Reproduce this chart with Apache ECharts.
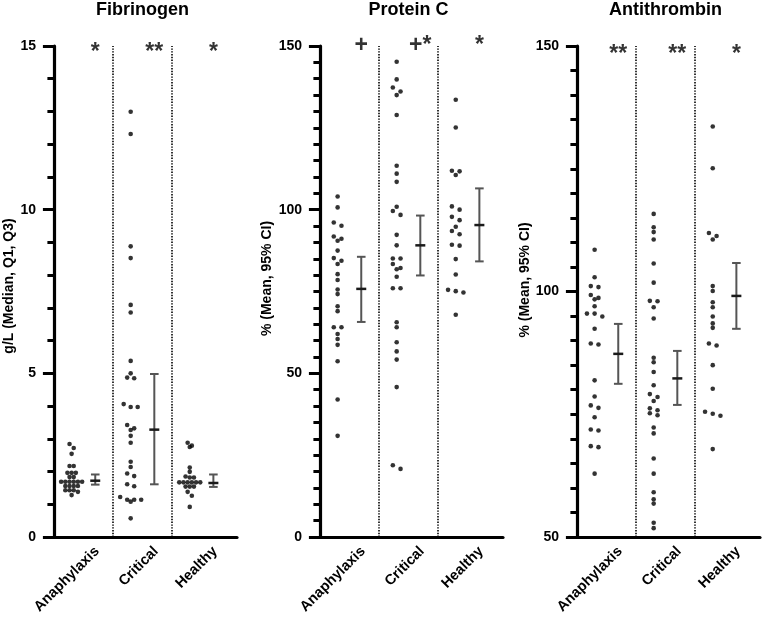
<!DOCTYPE html>
<html lang="en">
<head>
<meta charset="UTF-8">
<title>Fibrinogen, Protein C, Antithrombin</title>
<script src="https://cdn.jsdelivr.net/npm/echarts@6/dist/echarts.min.js"></script>
<style>
html, body { margin: 0; padding: 0; background: #fff; }
#main { width: 765px; height: 617px; }
</style>
</head>
<body>
<div id="main"></div>
<script>
// groups and panels
var groups = ['Anaphylaxis', 'Critical', 'Healthy'];
var panelTitles = ['Fibrinogen', 'Protein C', 'Antithrombin'];
var yNames = ['g/L (Median, Q1, Q3)', '% (Mean, 95% CI)', '% (Mean, 95% CI)'];
var yMin = [0, 0, 50];
var yMax = [15, 150, 150];
var yStep = [5, 50, 50];
var yMinorSplit = [5, 10, 10];

// Fibrinogen, g/L
var fibAnaphylaxis = [2.84, 2.72, 2.54, 2.17, 2.17, 1.96, 1.96, 1.96, 1.83, 1.83, 1.69, 1.69, 1.69, 1.69, 1.69, 1.69,
  1.56, 1.56, 1.56, 1.56, 1.43, 1.43, 1.43, 1.38, 1.28];
var fibCritical = [12.99, 12.31, 8.88, 8.52, 7.09, 6.86, 5.38, 5.00, 4.87, 4.85, 4.06, 3.97, 3.97, 3.42, 3.32, 3.27,
  3.09, 2.88, 2.30, 2.14, 1.94, 1.86, 1.61, 1.55, 1.22, 1.14, 1.14, 1.14, 1.08, 0.57];
var fibHealthy = [2.88, 2.79, 2.75, 2.12, 1.99, 1.85, 1.82, 1.82, 1.67, 1.67, 1.67, 1.67, 1.67, 1.67, 1.54, 1.54, 1.54,
  1.38, 1.26, 0.92];
// [low, median, high]
var fibBars = [[1.60, 1.72, 1.91], [1.61, 3.28, 4.98], [1.53, 1.65, 1.91]];

// Protein C, %
var pcAnaphylaxis = [104.0, 100.7, 96.1, 95.1, 91.8, 91.1, 90.5, 87.5, 85.2, 84.4, 83.4, 80.3, 78.5, 75.6, 74.2, 70.5,
  69.0, 64.1, 64.1, 62.0, 60.5, 58.7, 53.7, 42.0, 30.9];
var pcCritical = [145.2, 139.8, 137.3, 136.1, 135.0, 128.9, 113.4, 111.0, 108.5, 100.9, 99.6, 98.4, 92.3, 89.1, 85.1,
  85.1, 83.4, 82.2, 81.8, 79.5, 76.0, 76.0, 65.6, 64.1, 59.5, 56.7, 54.2, 45.8, 21.9, 20.8];
var pcHealthy = [133.6, 125.1, 111.9, 111.7, 110.6, 101.0, 100.0, 97.8, 96.8, 94.8, 93.5, 92.5, 89.3, 89.0, 84.9, 80.2,
  75.5, 75.1, 74.7, 67.9];
// [low, mean, high]
var pcBars = [[65.7, 75.8, 85.6], [79.9, 89.1, 98.2], [84.2, 95.3, 106.5]];

// Antithrombin, %
var atAnaphylaxis = [108.5, 102.9, 101.1, 100.9, 99.3, 98.7, 98.4, 97.0, 95.5, 95.5, 94.9, 92.4, 89.4, 89.2, 81.9, 78.6,
  76.8, 76.3, 74.4, 71.9, 71.7, 68.5, 68.3, 62.9];
var atCritical = [115.8, 113.1, 112.1, 110.6, 105.7, 101.8, 98.1, 98.0, 96.8, 94.5, 86.5, 85.6, 83.6, 80.9, 79.1, 78.5,
  77.7, 76.2, 75.8, 75.2, 74.8, 72.3, 71.1, 66.0, 62.9, 59.1, 57.7, 56.8, 52.9, 51.8];
var atHealthy = [133.6, 125.1, 111.9, 111.3, 110.6, 101.1, 100.1, 97.8, 96.8, 94.9, 93.5, 92.6, 89.4, 89.0, 85.0, 80.2,
  75.5, 75.1, 74.7, 67.9];
var atBars = [[81.2, 87.3, 93.4], [76.9, 82.3, 87.9], [92.4, 99.1, 105.8]];

// significance marks over each group
var marks = [['*', '**', '*'], ['+', '+*', '*'], ['**', '**', '*']];

var panelDots = [
  [fibAnaphylaxis, fibCritical, fibHealthy],
  [pcAnaphylaxis, pcCritical, pcHealthy],
  [atAnaphylaxis, atCritical, atHealthy]
];
var panelBars = [fibBars, pcBars, atBars];

// layout
var gridLeft = [48, 314, 571];
var gridTop = 46, gridW = 189, gridH = 491;
var xMin = -0.1, xMax = 3.1;
var dotPos = 0.3, barPos = 0.7, labelPos = 0.73;
var nameGap = [27, 40, 37];
var nameShift = [11, 26, 23];
var markOffset = [7, 0, 9];
var font = '"Liberation Sans", Arial, Helvetica, sans-serif';

// spread equal-ish values sideways like a dot plot
function swarm(vals, centre, p) {
  var pyu = gridH / (yMax[p] - yMin[p]);
  var pxu = gridW / (xMax - xMin);
  var sorted = vals.slice().sort(function (a, b) { return b - a; });
  var rows = [], row = null;
  sorted.forEach(function (v) {
    if (!row || (row.start - v) * pyu > 4) {
      row = { start: v, items: [] };
      rows.push(row);
    }
    row.items.push(v);
  });
  var maxN = 1;
  rows.forEach(function (r) { maxN = Math.max(maxN, r.items.length); });
  var gap = maxN > 1 ? Math.min(7.7, 21 / (maxN - 1)) : 7.7;
  var out = [];
  rows.forEach(function (r) {
    var n = r.items.length;
    r.items.forEach(function (v, i) {
      out.push([centre + (i - (n - 1) / 2) * gap / pxu, v]);
    });
  });
  return out;
}

function renderBar(params, api) {
  var x = api.value(0);
  var lo = api.coord([x, api.value(1)]);
  var mid = api.coord([x, api.value(2)]);
  var hi = api.coord([x, api.value(3)]);
  var st = { stroke: '#555', lineWidth: 2 };
  var cap = 4.3;
  return {
    type: 'group',
    children: [
      { type: 'line', shape: { x1: lo[0], y1: lo[1], x2: hi[0], y2: hi[1] }, style: st },
      { type: 'line', shape: { x1: lo[0] - cap, y1: lo[1], x2: lo[0] + cap, y2: lo[1] }, style: st },
      { type: 'line', shape: { x1: hi[0] - cap, y1: hi[1], x2: hi[0] + cap, y2: hi[1] }, style: st },
      { type: 'line', shape: { x1: mid[0] - 5, y1: mid[1], x2: mid[0] + 5, y2: mid[1] },
        style: { stroke: '#1a1a1a', lineWidth: 2.5 } }
    ]
  };
}

var titles = [], grids = [], xAxes = [], yAxes = [], series = [];
for (var p = 0; p < 3; p++) {
  titles.push({
    text: panelTitles[p],
    left: gridLeft[p] + gridW / 2,
    top: 1,
    textAlign: 'center',
    padding: 0,
    textStyle: { fontSize: 18, fontWeight: 'bold', color: '#000', fontFamily: font }
  });
  grids.push({
    left: gridLeft[p], top: gridTop, width: gridW, height: gridH,
    containLabel: false, outerBoundsMode: 'none'
  });
  xAxes.push({
    type: 'value', gridIndex: p, min: xMin, max: xMax,
    axisLine: { show: true, onZero: false, lineStyle: { color: '#000', width: 3.2 } },
    axisTick: { show: false },
    splitLine: { show: false },
    axisLabel: {
      customValues: [labelPos, 1 + labelPos, 2 + labelPos],
      rotate: 45, margin: 12,
      fontSize: 14.5, fontWeight: 'bold', color: '#000', fontFamily: font,
      formatter: function (v) { return groups[Math.round(v - labelPos)]; }
    }
  });
  yAxes.push({
    type: 'value', gridIndex: p, min: yMin[p], max: yMax[p], interval: yStep[p],
    axisLine: { show: true, lineStyle: { color: '#000', width: 3.2 } },
    axisTick: { show: true, length: 11, lineStyle: { color: '#000', width: 3 } },
    minorTick: { show: true, splitNumber: yMinorSplit[p], length: 6.5, lineStyle: { color: '#000', width: 3 } },
    splitLine: { show: false },
    axisLabel: { margin: 12, fontSize: 14, fontWeight: 'bold', color: '#000', fontFamily: font },
    name: yNames[p], nameLocation: 'middle', nameGap: nameGap[p],
    nameTextStyle: { fontSize: 14, fontWeight: 'bold', color: '#000', fontFamily: font,
      padding: [0, 0, 0, nameShift[p]] }
  });

  var dots = [];
  for (var g = 0; g < 3; g++) {
    dots = dots.concat(swarm(panelDots[p][g], g + dotPos, p));
  }
  series.push({
    type: 'scatter', xAxisIndex: p, yAxisIndex: p,
    symbol: 'circle', symbolSize: 4.6,
    itemStyle: { color: '#000' },
    data: dots,
    markLine: {
      silent: true, symbol: ['none', 'none'],
      label: { show: false },
      lineStyle: { color: '#000', width: 1.6, type: [1.4, 1.4] },
      data: [{ xAxis: 1 }, { xAxis: 2 }]
    }
  });

  series.push({
    type: 'custom', xAxisIndex: p, yAxisIndex: p,
    renderItem: renderBar,
    encode: { x: 0, y: [1, 2, 3] },
    data: panelBars[p].map(function (b, g) { return [g + barPos, b[0], b[1], b[2]]; })
  });

  series.push({
    type: 'scatter', xAxisIndex: p, yAxisIndex: p,
    symbolSize: 0, silent: true,
    label: {
      show: true, position: 'inside', formatter: '{b}', offset: [0, markOffset[p]],
      fontSize: 23, fontWeight: 'bold', color: '#000', fontFamily: font
    },
    data: marks[p].map(function (m, g) { return { name: m, value: [g + barPos, yMax[p]] }; })
  });
}

var chart = echarts.init(document.getElementById('main'));
chart.setOption({
  animation: false,
  backgroundColor: '#fff',
  title: titles,
  grid: grids,
  xAxis: xAxes,
  yAxis: yAxes,
  series: series
});
</script>
</body>
</html>
